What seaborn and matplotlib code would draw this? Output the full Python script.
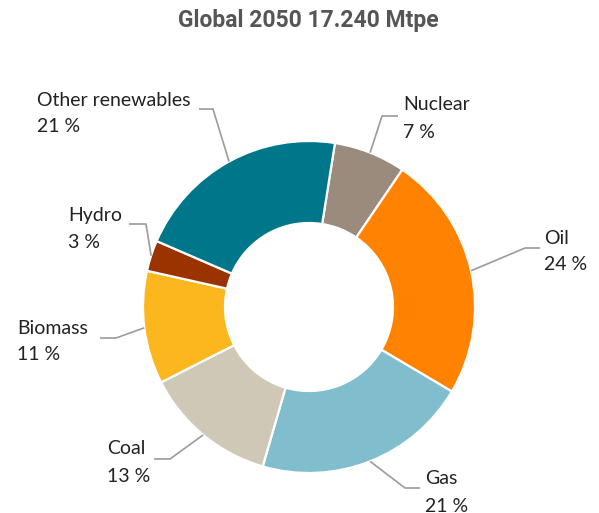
import numpy as np
import matplotlib
matplotlib.use("Agg")
import matplotlib.pyplot as plt
import seaborn as sns

# data
sources = ["Nuclear", "Oil", "Gas", "Coal", "Biomass", "Hydro", "Other renewables"]
shares = [7, 24, 21, 13, 11, 3, 21]
colors = ["#9A8B7D", "#FF8200", "#80BECD", "#CFC8B6", "#FDB71E", "#9A3300", "#00768A"]
title = "Global 2050 17.240 Mtpe"

sns.set_style("white")
plt.rcParams['font.family'] = ['Lato', 'DejaVu Sans']

W, H = 599, 513
fig = plt.figure(figsize=(W / 100, H / 100), dpi=100)
ax = fig.add_axes([0, 0, 1, 1])

cx, cy, R, ring = 309, 307, 166, 82
start = 9  # degrees clockwise from top

def Y(y):
    return H - y

pal = sns.color_palette(colors)
ax.pie(shares, colors=pal, center=(cx, Y(cy)), radius=R,
       startangle=90 - start, counterclock=False,
       wedgeprops=dict(width=ring, edgecolor="white", linewidth=1.6))

ax.set_xlim(0, W)
ax.set_ylim(0, H)
ax.set_aspect("equal")
ax.axis("off")

# label layout: text left x, first line y, elbow point, line end point
layout = {
    "Nuclear": (403, 105, (382, 116), (398, 116)),
    "Oil": (544, 238, (525, 248), (540, 248)),
    "Gas": (425, 479, (405, 488), (420, 488)),
    "Coal": (107, 449, (170, 459), (154, 459)),
    "Biomass": (17, 328, (116, 338), (100, 338)),
    "Hydro": (68, 215, (146, 224), (129, 224)),
    "Other renewables": (37, 100, (213, 109), (199, 109)),
}

cum = np.cumsum(shares)
for name, val, c in zip(sources, shares, cum):
    mid = np.deg2rad(start + 360 * (c - val / 2) / sum(shares))
    x0 = cx + R * np.sin(mid)
    y0 = cy - R * np.cos(mid)
    tx, ty, (ex, ey), (fx, fy) = layout[name]
    ax.plot([x0, ex, fx], [Y(y0), Y(ey), Y(fy)], color="#9B9B9B", lw=1.2,
            solid_capstyle="butt")
    ax.text(tx, Y(ty), name, fontsize=14, color="#222222", ha="left", va="center")
    ax.text(tx, Y(ty + 27), f"{val} %", fontsize=14, color="#222222",
            ha="left", va="center")

ax.text(308, Y(20), title, fontsize=16.5, fontweight="bold", color="#555555",
        ha="center", va="center", family=["Roboto", "DejaVu Sans"])

fig.savefig("out.png", dpi=100)
